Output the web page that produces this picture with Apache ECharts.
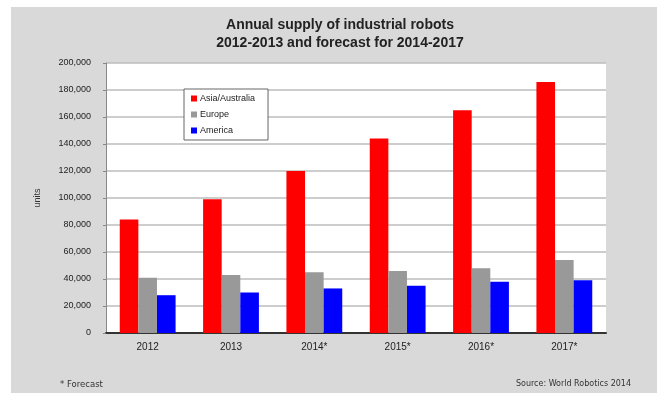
<!DOCTYPE html>
<html>
<head>
<meta charset="utf-8">
<script src="https://cdn.jsdelivr.net/npm/echarts@6/dist/echarts.min.js"></script>
<style>
  html, body { margin: 0; padding: 0; background: #fff; }
  #chart { width: 657px; height: 396px; }
</style>
</head>
<body>
<div id="chart"></div>
<script>
// data
const years = ['2012', '2013', '2014*', '2015*', '2016*', '2017*'];
const asiaAustralia = [84000, 99000, 120000, 144000, 165000, 186000];
const europe = [41000, 43000, 45000, 46000, 48000, 54000];
const america = [28000, 30000, 33000, 35000, 38000, 39000];
const yTicks = [0, 20000, 40000, 60000, 80000, 100000, 120000, 140000, 160000, 180000, 200000];

const chart = echarts.init(document.getElementById('chart'));

const font = 'Arial, "Liberation Sans", sans-serif';
const smallFont = 'Verdana, "DejaVu Sans", sans-serif';

const option = {
    backgroundColor: '#fff',
    animation: false,
    graphic: [
        {
            // grey panel behind the whole chart
            type: 'rect',
            z: -10,
            shape: { x: 11, y: 7, width: 660, height: 386 },
            style: { fill: '#d9d9d9' }
        }
    ],
    title: [
        {
            text: 'Annual supply of industrial robots\n2012-2013 and forecast for 2014-2017',
            left: 340,
            top: 16,
            padding: 0,
            textAlign: 'center',
            textStyle: {
                fontFamily: font,
                fontSize: 14,
                fontWeight: 'bold',
                color: '#222',
                lineHeight: 18
            }
        },
        {
            text: '* Forecast',
            left: 60,
            top: 380,
            padding: 0,
            textStyle: { fontFamily: smallFont, fontSize: 8.5, fontWeight: 'normal', color: '#333' }
        },
        {
            text: 'Source: World Robotics 2014',
            right: 26,
            top: 380,
            padding: 0,
            textStyle: { fontFamily: smallFont, fontSize: 8, fontWeight: 'normal', color: '#333' }
        }
    ],
    legend: {
        orient: 'vertical',
        left: 184,
        top: 89,
        padding: [5, 13, 5, 7],
        itemGap: 7,
        itemWidth: 6,
        itemHeight: 6,
        icon: 'rect',
        backgroundColor: '#fff',
        borderColor: '#666',
        borderWidth: 1,
        textStyle: { fontFamily: font, fontSize: 9, color: '#222', padding: [0, 0, 0, -2] },
        data: ['Asia/Australia', 'Europe', 'America']
    },
    grid: {
        left: 106,
        right: 51,
        top: 63,
        bottom: 63,
        show: true,
        backgroundColor: '#fff',
        borderWidth: 0
    },
    xAxis: {
        type: 'category',
        data: years,
        axisLine: { lineStyle: { color: '#333', width: 2 } },
        axisTick: { show: false },
        axisLabel: { fontFamily: font, fontSize: 10, color: '#222', margin: 9 }
    },
    yAxis: {
        type: 'value',
        min: yTicks[0],
        max: yTicks[yTicks.length - 1],
        interval: yTicks[1] - yTicks[0],
        name: 'units',
        nameLocation: 'middle',
        nameGap: 64,
        nameTextStyle: { fontFamily: font, fontSize: 9, color: '#333' },
        axisLine: { show: true, lineStyle: { color: '#888', width: 1 } },
        axisTick: { show: true, length: 3, lineStyle: { color: '#888' } },
        axisLabel: {
            fontFamily: font,
            fontSize: 9,
            color: '#222',
            margin: 15,
            formatter: v => v.toLocaleString('en-US')
        },
        splitLine: { lineStyle: { color: '#bdbdbd', width: 1.5 } }
    },
    series: [
        {
            name: 'Asia/Australia',
            type: 'bar',
            data: asiaAustralia,
            barGap: '0%',
            barCategoryGap: '33%',
            itemStyle: { color: '#ff0000' }
        },
        {
            name: 'Europe',
            type: 'bar',
            data: europe,
            itemStyle: { color: '#999999' }
        },
        {
            name: 'America',
            type: 'bar',
            data: america,
            itemStyle: { color: '#0000ff' }
        }
    ]
};

chart.setOption(option);
</script>
</body>
</html>
